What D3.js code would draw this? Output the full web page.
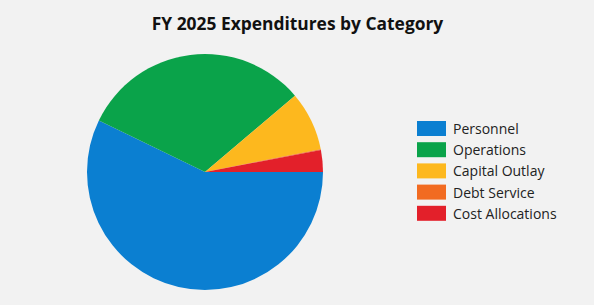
<!DOCTYPE html>
<html><head><meta charset="utf-8">
<script src="https://cdn.jsdelivr.net/npm/d3@7"></script>
<style>html,body{margin:0;padding:0;background:#f2f2f2;}svg{display:block;}</style>
</head><body>
<script>
const categories = ["Personnel", "Operations", "Capital Outlay", "Debt Service", "Cost Allocations"];
const values = [57.2, 31.6, 8.1, 0.1, 3.0];
const colors = ["#0b7fd1", "#0aa34a", "#fdb81e", "#f26b21", "#e3202a"];
const title = "FY 2025 Expenditures by Category";

const W = 594, H = 305;
const svg = d3.select("body").append("svg").attr("width", W).attr("height", H);
svg.append("rect").attr("width", W).attr("height", H).attr("fill", "#f2f2f2");

svg.append("text").attr("x", 297.5).attr("y", 30).attr("text-anchor", "middle")
  .attr("font-family", "'Open Sans', 'Noto Sans', sans-serif").attr("font-weight", 700)
  .attr("font-size", 17.4).attr("fill", "#111").text(title);

const data = categories.map((c, i) => ({ cat: c, v: values[i], col: colors[i] }));
const pie = d3.pie().value(d => d.v).sort(null).startAngle(Math.PI / 2).endAngle(Math.PI / 2 + 2 * Math.PI);
const arc = d3.arc().innerRadius(0).outerRadius(118);
const g = svg.append("g").attr("transform", "translate(205,172)");
g.selectAll("path").data(pie(data)).join("path").attr("d", arc).attr("fill", d => d.data.col);

const y = d3.scaleBand().domain(categories).range([118, 224]).paddingInner(0);
const leg = svg.append("g");
const rows = leg.selectAll("g").data(data).join("g").attr("transform", d => `translate(417,${y(d.cat)})`);
rows.append("rect").attr("width", 29).attr("height", 15).attr("y", 3).attr("fill", d => d.col);
rows.append("text").attr("x", 36).attr("y", 16).attr("font-family", "'Open Sans', 'Noto Sans', sans-serif")
  .attr("font-size", 14).attr("fill", "#222").text(d => d.cat);
</script>
</body></html>
